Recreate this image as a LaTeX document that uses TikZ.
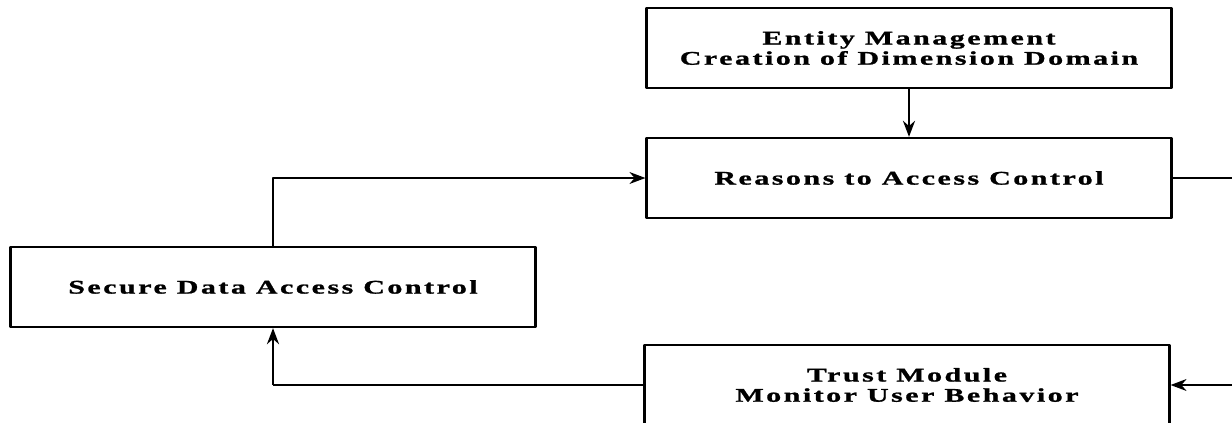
\documentclass[tikz,border=0pt]{standalone}
\usepackage{fontspec}
\newfontfamily\boxfont[FakeStretch=1.55,LetterSpace=13,FakeBold=1.2]{Liberation Serif}
\usetikzlibrary{arrows.meta,positioning}
\tikzset{
  block/.style={draw, line width=1.3pt, minimum width=10.5cm, minimum height=1.6cm,
    inner sep=0pt, align=center, font=\boxfont\bfseries\fontsize{11}{11.5}\selectfont},
  thinflow/.style={->, line width=0.7pt},
  thickflow/.style={->, line width=1.5pt}
}

\begin{document}
\begin{tikzpicture}[x=0.02cm, y=-0.02cm, >={Stealth[length=3.2mm,width=2.4mm]}, line join=round]
    \clip (0,0) rectangle (1232,423);
    \node[block] (entity) at (909, 48) {Entity Management\\Creation of Dimension Domain};
    \node[block] (reasons) at (909, 178) {Reasons to Access Control};
    \node[block] (secure) at (273, 287) {Secure Data Access Control};
    \node[block] (trust) at (907, 385) {Trust Module\\Monitor User Behavior};
    \coordinate (bend) at (trust.west -| secure.south);
    \draw[thickflow] (entity.south) -- (reasons.north);
    \draw[thinflow] (secure.north) |- (reasons.west);
    \draw[line width=0.9pt] (trust.west) -- (bend);
    \draw[thickflow] (bend) -- (secure.south);
    \draw[thinflow] (reasons.east) -- ++(80,0) |- (trust.east);
  \end{tikzpicture}
\end{document}
